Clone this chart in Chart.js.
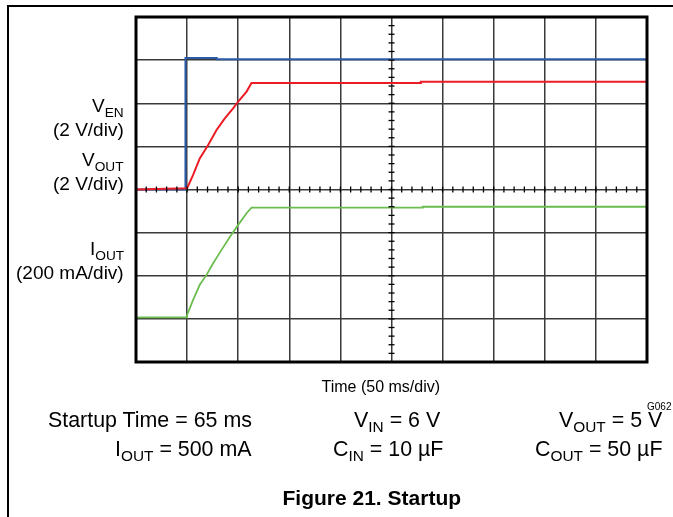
<!DOCTYPE html>
<html>
<head>
<meta charset="utf-8">
<script src="https://cdn.jsdelivr.net/npm/chart.js@4/dist/chart.umd.min.js"></script>
<style>
  html, body { margin: 0; padding: 0; background: #fff; }
  #wrap { position: relative; width: 673px; height: 517px; overflow: hidden; font-family: "Liberation Sans", Arial, sans-serif; color: #000; }
  #frame { position: absolute; left: 7px; top: 5px; width: 700px; height: 600px; border-left: 2px solid #000; border-top: 2px solid #000; }
  canvas { position: absolute; left: 0; top: 0; }
  .t { position: absolute; white-space: nowrap; line-height: 1; }
  .s { position: relative; top: 5px; font-size: 0.72em; }
</style>
</head>
<body>
<div id="wrap">
  <div id="frame"></div>
  <canvas id="scope" width="673" height="517"></canvas>
  <div id="labels"></div>
</div>
<script>
// temps en ms (50 ms par division), tensions/courant en divisions de l'écran
const timeEn = [0, 48.4, 48.4, 79, 79, 500];
const venDiv = [0, 0, 3.05, 3.05, 3.02, 3.02];

const timeVout = [0, 50, 55.9, 62.4, 70.6, 78.8, 86.9, 95, 100, 108.2, 113, 278.7, 278.7, 500];
const voutDiv = [0, 0.03, 0.34, 0.72, 1.03, 1.38, 1.65, 1.88, 2.04, 2.27, 2.47, 2.47, 2.5, 2.5];

const timeIout = [0, 50, 50, 55.9, 62.4, 69, 75.5, 83.7, 91.8, 100, 108.2, 113, 280.6, 280.6, 500];
const ioutDiv = [-2.965, -2.965, -2.91, -2.56, -2.21, -1.98, -1.71, -1.40, -1.10, -0.82, -0.55, -0.42, -0.42, -0.40, -0.40];

const xDivs = 10, msPerDiv = 50, yDivs = 8;

// textos fora do gráfico
const textItems = [
  { html: 'V<span class="s">EN</span>', right: 124, base: 112, size: 19 },
  { html: '(2 V/div)', right: 124, base: 136, size: 19 },
  { html: 'V<span class="s">OUT</span>', right: 124, base: 166, size: 19 },
  { html: '(2 V/div)', right: 124, base: 190, size: 19 },
  { html: 'I<span class="s">OUT</span>', right: 124, base: 255, size: 19 },
  { html: '(200 mA/div)', right: 124, base: 279, size: 19 },
  { html: 'Time (50 ms/div)', center: 381, base: 393, size: 16 },
  { html: 'G062', right: 671, base: 410, size: 10 },
  { html: 'Startup Time = 65 ms', right: 252, base: 428, size: 21.4 },
  { html: 'V<span class="s">IN</span> = 6 V', left: 354, base: 428, size: 21.4 },
  { html: 'V<span class="s">OUT</span> = 5 V', right: 662, base: 428, size: 21.4 },
  { html: 'I<span class="s">OUT</span> = 500 mA', right: 252, base: 457, size: 21.4 },
  { html: 'C<span class="s">IN</span> = 10 µF', left: 333, base: 457, size: 21.4 },
  { html: 'C<span class="s">OUT</span> = 50 µF', right: 662, base: 457, size: 21.4 },
  { html: '<b>Figure 21. Startup</b>', center: 372, base: 505, size: 21 }
];

const box = document.getElementById('labels');
textItems.forEach(it => {
  const d = document.createElement('div');
  d.className = 't';
  d.innerHTML = it.html;
  d.style.fontSize = it.size + 'px';
  d.style.top = (it.base - 0.8465 * it.size) + 'px';
  box.appendChild(d);
  const w = d.offsetWidth;
  if (it.left !== undefined) d.style.left = it.left + 'px';
  else if (it.right !== undefined) d.style.left = (it.right - w) + 'px';
  else d.style.left = (it.center - w / 2) + 'px';
});

function toPoints(xs, ys) {
  return xs.map((x, i) => ({ x: x, y: ys[i] }));
}

// moldura grossa e marcas nos eixos centrais
const scopeDecor = {
  id: 'scopeDecor',
  afterDraw(chart) {
    const { ctx, chartArea: a, scales } = chart;
    const xs = scales.x, ys = scales.y;
    ctx.save();
    ctx.strokeStyle = '#000';
    ctx.lineWidth = 1.3;
    const y0 = ys.getPixelForValue(0);
    for (let v = 0; v <= xDivs * msPerDiv; v += msPerDiv / 5) {
      const px = xs.getPixelForValue(v);
      ctx.beginPath(); ctx.moveTo(px, y0 - 3); ctx.lineTo(px, y0 + 3); ctx.stroke();
    }
    const x0 = xs.getPixelForValue(xDivs * msPerDiv / 2);
    for (let v = -yDivs / 2; v <= yDivs / 2; v += 0.2) {
      const py = ys.getPixelForValue(v);
      ctx.beginPath(); ctx.moveTo(x0 - 3, py); ctx.lineTo(x0 + 3, py); ctx.stroke();
    }
    ctx.lineWidth = 3;
    ctx.strokeRect(a.left, a.top, a.right - a.left, a.bottom - a.top);
    ctx.restore();
  }
};

new Chart(document.getElementById('scope').getContext('2d'), {
  type: 'line',
  data: {
    datasets: [
      { label: 'VOUT', data: toPoints(timeVout, voutDiv), borderColor: '#ec1c24', borderWidth: 2 },
      { label: 'VEN', data: toPoints(timeEn, venDiv), borderColor: '#2b5ba8', borderWidth: 2 },
      { label: 'IOUT', data: toPoints(timeIout, ioutDiv), borderColor: '#6cbd4f', borderWidth: 1.8 }
    ]
  },
  options: {
    responsive: false,
    animation: false,
    parsing: false,
    elements: { point: { radius: 0 }, line: { tension: 0 } },
    layout: { padding: { left: 136, right: 26, top: 17, bottom: 155 } },
    plugins: { legend: { display: false }, tooltip: { enabled: false } },
    scales: {
      x: {
        type: 'linear', min: 0, max: xDivs * msPerDiv,
        ticks: { display: false, stepSize: msPerDiv },
        grid: { color: '#3a3a3a', lineWidth: 1.5, drawTicks: false },
        border: { display: false }
      },
      y: {
        type: 'linear', min: -yDivs / 2, max: yDivs / 2,
        ticks: { display: false, stepSize: 1 },
        grid: { color: '#3a3a3a', lineWidth: 1.5, drawTicks: false },
        border: { display: false }
      }
    }
  },
  plugins: [scopeDecor]
});
</script>
</body>
</html>
